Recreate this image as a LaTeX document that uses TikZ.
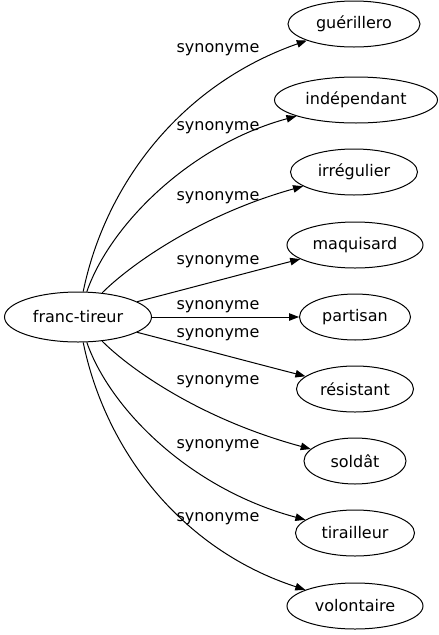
\documentclass[tikz,border=0pt]{standalone}
\usepackage{fontspec}
\setmainfont{DejaVu Sans}
\usetikzlibrary{arrows.meta,shapes.geometric}

\begin{document}
\begin{tikzpicture}[x=1pt,y=-1pt,line width=1pt,
	main node/.style={ellipse,draw,inner sep=0pt,minimum height=46pt,font=\fontsize{16}{19}\selectfont},
	syn label/.style={anchor=base,inner sep=0pt,font=\fontsize{16}{19}\selectfont},
	syn edge/.style={-{Triangle[length=10pt,width=7.5pt]}}]
		\useasboundingbox (0,0) rectangle (439,635);
		\node[main node,minimum width=147pt,minimum height=50pt] (0) at (78,317) {franc-tireur};
		\node[main node,minimum width=132pt] (1) at (354,24) {guérillero};
		\node[main node,minimum width=163pt] (2) at (356,100) {indépendant};
		\node[main node,minimum width=127pt] (3) at (354,172) {irrégulier};
		\node[main node,minimum width=136pt] (4) at (355,245) {maquisard};
		\node[main node,minimum width=111pt] (5) at (355,317) {partisan};
		\node[main node,minimum width=117pt] (6) at (355,389) {résistant};
		\node[main node,minimum width=102pt] (7) at (355,461) {soldât};
		\node[main node,minimum width=119pt] (8) at (355,533) {tirailleur};
		\node[main node,minimum width=136pt] (9) at (355,606) {volontaire};
		% edges
		\draw[syn edge] (0) .. controls (105,185) and (180,85) .. (1);
		\draw[syn edge] (0) .. controls (110,225) and (190,145) .. (2);
		\draw[syn edge] (0) .. controls (130,265) and (200,215) .. (3);
		\draw[syn edge] (0) .. controls (190,288) and (250,272) .. (4);
		\draw[syn edge] (0) -- (5);
		\draw[syn edge] (0) .. controls (190,346) and (250,362) .. (6);
		\draw[syn edge] (0) .. controls (130,369) and (200,419) .. (7);
		\draw[syn edge] (0) .. controls (110,409) and (190,489) .. (8);
		\draw[syn edge] (0) .. controls (105,449) and (180,549) .. (9);
		% labels
		\node[syn label] (l1) at (218,52) {synonyme};
		\node[syn label] (l2) at (218,130) {synonyme};
		\node[syn label] (l3) at (218,200) {synonyme};
		\node[syn label] (l4) at (218,264) {synonyme};
		\node[syn label] (l5) at (218,309) {synonyme};
		\node[syn label] (l6) at (218,337) {synonyme};
		\node[syn label] (l7) at (218,384) {synonyme};
		\node[syn label] (l8) at (218,448) {synonyme};
		\node[syn label] (l9) at (218,521) {synonyme};
\end{tikzpicture}
\end{document}
